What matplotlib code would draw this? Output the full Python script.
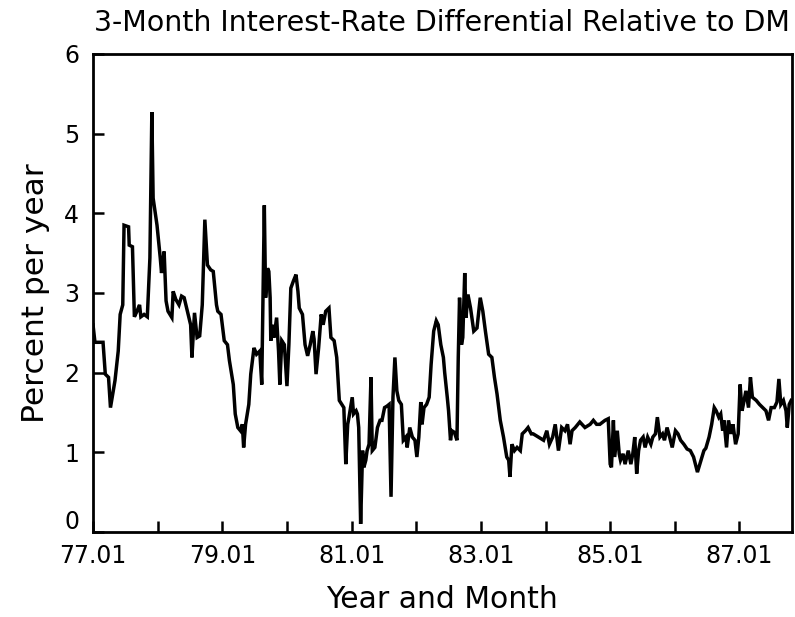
import matplotlib
matplotlib.use("Agg")
from matplotlib import pyplot as plt
from matplotlib import transforms

# 3-month differential vs DM (decimal year, percent)
years = [77.00, 77.03, 77.155, 77.19, 77.24, 77.27, 77.34, 77.39, 77.42, 77.46,
         77.48, 77.55, 77.56, 77.61, 77.64, 77.68, 77.72, 77.74, 77.79, 77.84,
         77.88, 77.91, 77.93, 77.99, 78.04, 78.06, 78.10, 78.13, 78.16, 78.22,
         78.24, 78.28, 78.33, 78.37, 78.41, 78.46, 78.51, 78.53, 78.57, 78.61,
         78.65, 78.69, 78.73, 78.77, 78.82, 78.86, 78.91, 78.93, 78.98, 79.03,
         79.08, 79.11, 79.17, 79.20, 79.24, 79.28, 79.31, 79.33, 79.36, 79.41,
         79.44, 79.49, 79.53, 79.58, 79.61, 79.65, 79.67, 79.70, 79.72, 79.74,
         79.75, 79.78, 79.80, 79.84, 79.87, 79.89, 79.92, 79.96, 80.00, 80.03,
         80.06, 80.10, 80.14, 80.17, 80.19, 80.24, 80.28, 80.32, 80.36, 80.40,
         80.42, 80.45, 80.49, 80.53, 80.56, 80.60, 80.65, 80.68, 80.73, 80.77,
         80.81, 80.85, 80.88, 80.91, 80.94, 80.96, 81.01, 81.03, 81.07, 81.09,
         81.11, 81.14, 81.17, 81.19, 81.22, 81.24, 81.27, 81.30, 81.32, 81.36,
         81.40, 81.44, 81.47, 81.51, 81.55, 81.58, 81.61, 81.64, 81.67, 81.70,
         81.73, 81.77, 81.80, 81.84, 81.86, 81.90, 81.94, 81.98, 82.01, 82.04,
         82.07, 82.09, 82.12, 82.16, 82.20, 82.23, 82.27, 82.31, 82.34, 82.38,
         82.42, 82.44, 82.48, 82.50, 82.53, 82.55, 82.59, 82.63, 82.65, 82.67,
         82.70, 82.72, 82.75, 82.77, 82.80, 82.84, 82.89, 82.94, 82.99, 83.03,
         83.07, 83.12, 83.17, 83.21, 83.25, 83.30, 83.35, 83.40, 83.43, 83.45,
         83.48, 83.52, 83.56, 83.61, 83.64, 83.69, 83.73, 83.78, 83.81, 83.89,
         83.97, 84.02, 84.06, 84.11, 84.15, 84.20, 84.25, 84.30, 84.34, 84.38,
         84.41, 84.46, 84.53, 84.61, 84.69, 84.74, 84.79, 84.84, 84.92, 84.97,
         85.00, 85.02, 85.05, 85.07, 85.11, 85.14, 85.16, 85.20, 85.23, 85.28,
         85.32, 85.35, 85.38, 85.41, 85.44, 85.47, 85.51, 85.54, 85.58, 85.63,
         85.66, 85.70, 85.73, 85.77, 85.81, 85.84, 85.88, 85.92, 85.96, 86.01,
         86.05, 86.09, 86.14, 86.19, 86.24, 86.29, 86.35, 86.38, 86.42, 86.45,
         86.48, 86.53, 86.57, 86.61, 86.64, 86.68, 86.71, 86.74, 86.76, 86.80,
         86.83, 86.87, 86.90, 86.94, 86.98, 87.01, 87.04, 87.06, 87.10, 87.14,
         87.17, 87.20, 87.26, 87.31, 87.36, 87.41, 87.45, 87.49, 87.54, 87.58,
         87.61, 87.64, 87.68, 87.72, 87.74, 87.77, 87.80]

diff = [2.60, 2.38, 2.38, 1.98, 1.94, 1.56, 1.90, 2.27, 2.73, 2.85,
        3.85, 3.83, 3.60, 3.58, 2.70, 2.77, 2.85, 2.70, 2.73, 2.70,
        3.44, 5.27, 4.19, 3.85, 3.44, 3.25, 3.52, 2.90, 2.77, 2.69,
        3.02, 2.92, 2.85, 2.96, 2.94, 2.77, 2.60, 2.19, 2.75, 2.44,
        2.46, 2.85, 3.92, 3.35, 3.29, 3.27, 2.85, 2.77, 2.73, 2.40,
        2.35, 2.15, 1.85, 1.48, 1.31, 1.27, 1.35, 1.06, 1.35, 1.60,
        1.98, 2.31, 2.23, 2.27, 1.85, 4.10, 2.94, 3.31, 3.27, 2.94,
        2.40, 2.60, 2.44, 2.69, 2.27, 1.85, 2.40, 2.35, 1.83, 2.35,
        3.06, 3.15, 3.23, 3.02, 2.81, 2.73, 2.35, 2.21, 2.35, 2.52,
        2.42, 1.98, 2.31, 2.73, 2.60, 2.77, 2.81, 2.44, 2.40, 2.19,
        1.65, 1.60, 1.56, 0.85, 1.35, 1.44, 1.69, 1.48, 1.52, 1.48,
        1.31, 0.10, 1.02, 0.81, 0.90, 1.02, 1.10, 1.94, 1.02, 1.06,
        1.31, 1.40, 1.40, 1.56, 1.58, 1.60, 0.44, 1.69, 2.19, 1.77,
        1.65, 1.60, 1.15, 1.19, 1.06, 1.31, 1.19, 1.15, 0.94, 1.19,
        1.63, 1.35, 1.56, 1.60, 1.69, 2.10, 2.52, 2.65, 2.60, 2.35,
        2.19, 2.00, 1.69, 1.52, 1.15, 1.27, 1.25, 1.15, 2.19, 2.94,
        2.35, 2.44, 3.25, 2.69, 2.98, 2.81, 2.52, 2.56, 2.94, 2.77,
        2.52, 2.23, 2.19, 1.94, 1.73, 1.40, 1.19, 0.94, 0.90, 0.69,
        1.10, 1.02, 1.06, 1.02, 1.23, 1.27, 1.31, 1.23, 1.23, 1.19,
        1.15, 1.27, 1.10, 1.19, 1.35, 1.02, 1.31, 1.27, 1.35, 1.10,
        1.27, 1.31, 1.38, 1.31, 1.35, 1.40, 1.35, 1.35, 1.40, 1.42,
        0.85, 0.81, 1.40, 0.94, 1.27, 0.98, 0.90, 0.98, 0.85, 1.02,
        0.85, 0.98, 1.19, 0.73, 1.02, 1.15, 1.19, 1.06, 1.19, 1.10,
        1.19, 1.23, 1.44, 1.19, 1.23, 1.15, 1.31, 1.19, 1.06, 1.27,
        1.23, 1.15, 1.10, 1.04, 1.02, 0.94, 0.75, 0.83, 0.94, 1.02,
        1.05, 1.19, 1.35, 1.56, 1.52, 1.44, 1.48, 1.27, 1.40, 1.06,
        1.40, 1.23, 1.35, 1.10, 1.23, 1.85, 1.52, 1.60, 1.77, 1.56,
        1.94, 1.69, 1.65, 1.60, 1.56, 1.52, 1.40, 1.56, 1.56, 1.63,
        1.92, 1.60, 1.65, 1.52, 1.31, 1.60, 1.65]

tick_years = list(range(77, 88))
tick_labels = ["77.01", "", "79.01", "", "81.01", "", "83.01", "", "85.01", "", "87.01"]
y_ticks = [0, 1, 2, 3, 4, 5, 6]

plt.rcParams['font.family'] = ['DejaVu Sans']

fig = plt.figure(figsize=(7.95, 6.17), dpi=100)
ax = fig.add_axes([0.117, 0.138, 0.879, 0.7745])

ax.plot(years, diff, color='black', linewidth=2.5, solid_joinstyle='miter')

ax.set_xlim(77.0, 87.81)
ax.set_ylim(0, 6)
ax.set_xticks(tick_years)
ax.set_xticklabels(tick_labels)
ax.set_yticks(y_ticks)
ax.tick_params(direction='in', length=8, width=1.8, labelsize=17, pad=10)
ax.tick_params(axis='x', pad=9)
for s in ax.spines.values():
    s.set_linewidth(2.0)

# the "0" label sits a bit above its tick in the original
lab0 = ax.get_yticklabels()[0]
lab0.set_transform(lab0.get_transform() + transforms.ScaledTranslation(0, 0.12, fig.dpi_scale_trans))

ax.set_xlabel('Year and Month', fontsize=21.5, labelpad=12)
ax.set_ylabel('Percent per year', fontsize=22.5, labelpad=10)
fig.text(0.556, 0.962, '3-Month Interest-Rate Differential Relative to DM',
         ha='center', va='center', fontsize=20.5)

fig.savefig('out.png', dpi=100)
